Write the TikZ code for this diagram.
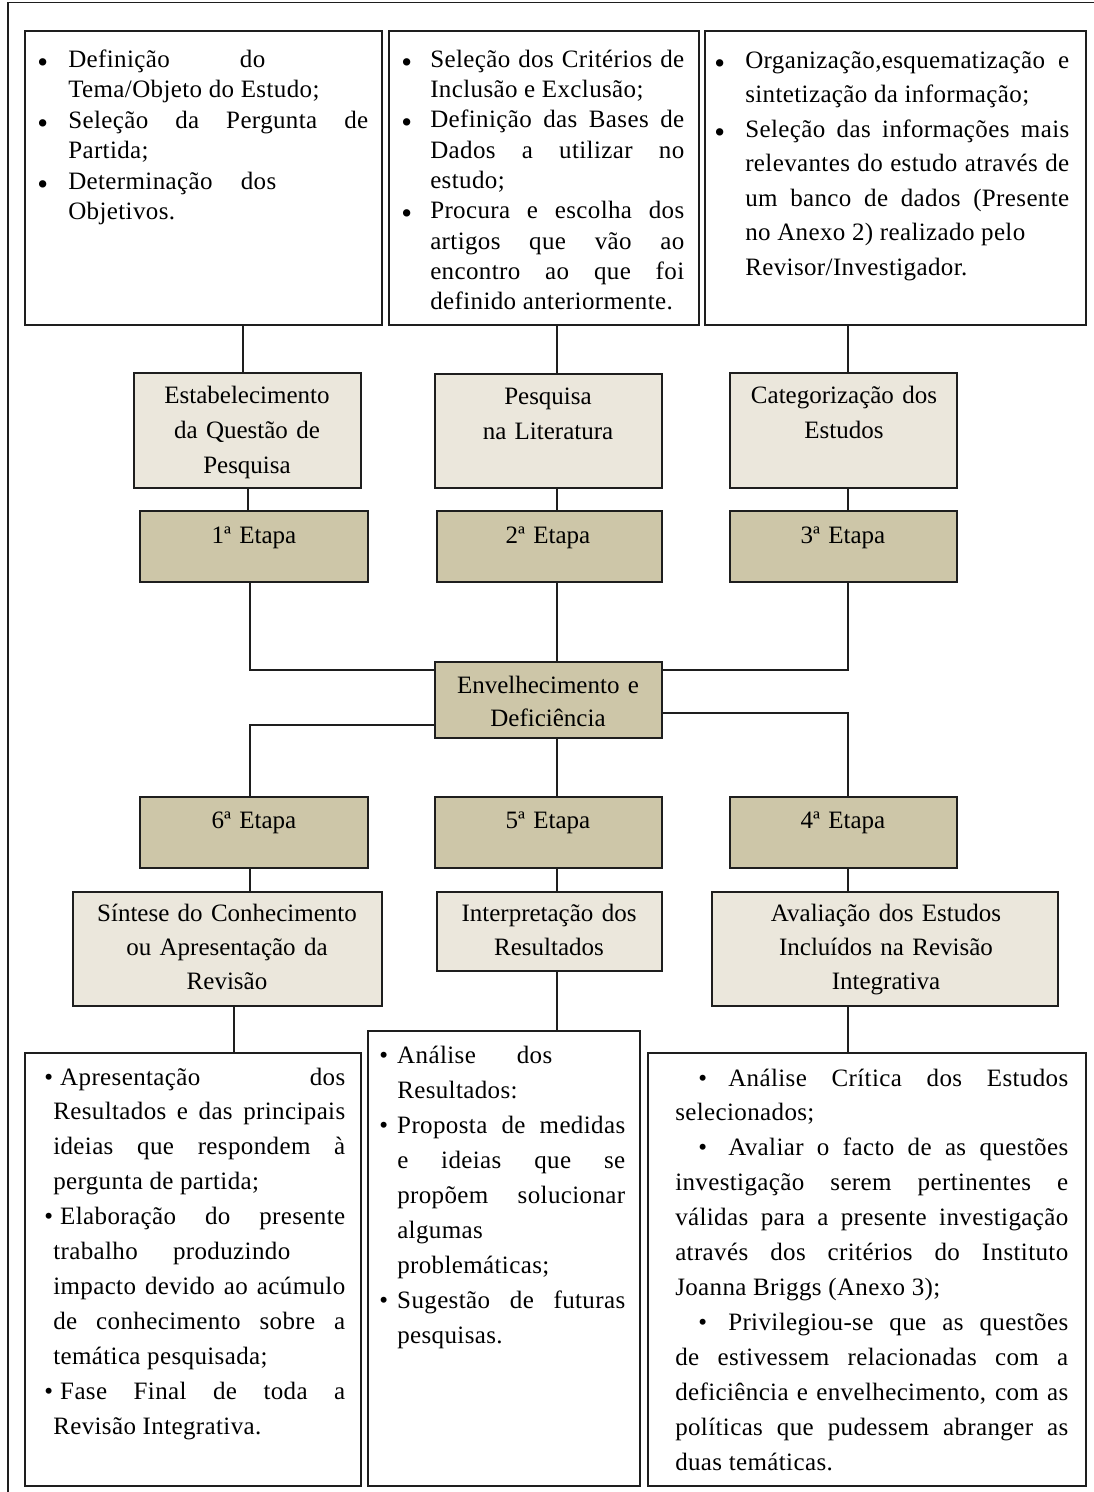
\documentclass[tikz,border=0pt]{standalone}
\usepackage{fontspec}
\setmainfont{Liberation Serif}
\newfontfamily\bodyfam{Liberation Serif}[LetterSpace=1.5]
\usetikzlibrary{fit}
\newdimen\pxu \pxu=0.75pt
% justified line of given width (px)
\newcommand\JL[2]{\hbox to #1\pxu{\spaceskip=0.25em plus 1fil\relax #2}}
% plain line
\newcommand\PL[1]{\hbox{#1}}
% larger bullet for the top boxes
\newcommand\bigbul{\raisebox{-3.8pt}{\fontsize{23pt}{23pt}\selectfont\textbullet}}
% bullet hanging left of the text start
\newcommand\BL[1]{\llap{\hbox to #1\pxu{\bigbul\hss}}}
\newcommand\SL[1]{\llap{\hbox to #1\pxu{\textbullet\hss}}}
% indent then bullet hanging left
\newcommand\BI[2]{\hskip#1\pxu\llap{\hbox to #2\pxu{\textbullet\hss}}}
% block of lines with fixed baseline skip (pt)
\newcommand\Lines[2]{\vtop{\baselineskip=#1pt\lineskip=0pt\lineskiplimit=-100pt #2}}
\newcommand\bodyfont[1]{\fontsize{18.75pt}{#1pt}\selectfont}
\definecolor{lightbox}{HTML}{EBE7DC}
\definecolor{darkbox}{HTML}{CDC6A8}
\definecolor{edge}{HTML}{1E1E1E}
\begin{document}
\begin{tikzpicture}[x=0.75pt,y=-0.75pt,
  frame/.style={draw=edge, line width=1.2pt, inner sep=0pt},
  plainbox/.style={frame, fill=white},
  topicbox/.style={frame, fill=lightbox},
  stagebox/.style={frame, fill=darkbox},
  link/.style={draw=edge, line width=1.1pt},
  body/.style={inner sep=0pt, anchor=base west, text=black, font=\bodyfam\bodyfont{25}},
  label/.style={inner sep=0pt, anchor=base, align=center, text width=225pt, text=black}
]
\useasboundingbox (0,0) rectangle (1094,1492);
\fill[white] (0,0) rectangle (1094,1492);
% outer frame
\draw[draw=edge, line width=1.3pt] (1094,2.5) -- (8,2.5) -- (8,1492);

% ---------- boxes ----------
\node[plainbox, fit={(25,31)(382,325)}] (b1) {};
\node[plainbox, fit={(389,31)(699,325)}] (b2) {};
\node[plainbox, fit={(705,31)(1086,325)}] (b3) {};

\node[topicbox, fit={(134,373)(361,488)}] (s1) {};
\node[topicbox, fit={(435,374)(662,488)}] (s2) {};
\node[topicbox, fit={(730,373)(957,488)}] (s3) {};

\node[stagebox, fit={(140,511)(368,582)}] (e1) {};
\node[stagebox, fit={(437,511)(662,582)}] (e2) {};
\node[stagebox, fit={(730,511)(957,582)}] (e3) {};

\node[stagebox, fit={(435,662)(662,738)}] (env) {};

\node[stagebox, fit={(140,797)(368,868)}] (e6) {};
\node[stagebox, fit={(435,797)(662,868)}] (e5) {};
\node[stagebox, fit={(730,797)(957,868)}] (e4) {};

\node[topicbox, fit={(73,892)(382,1006)}] (r6) {};
\node[topicbox, fit={(437,892)(662,971)}] (r5) {};
\node[topicbox, fit={(712,892)(1058,1006)}] (r4) {};

\node[plainbox, fit={(25,1053)(361,1486)}] (d6) {};
\node[plainbox, fit={(368,1031)(640,1486)}] (d5) {};
\node[plainbox, fit={(648,1053)(1086,1486)}] (d4) {};

% ---------- connectors ----------
\draw[link] (243,0 |- b1.south) -- (243,0 |- s1.north);
\draw[link] (557,0 |- b2.south) -- (557,0 |- s2.north);
\draw[link] (848,0 |- b3.south) -- (848,0 |- s3.north);
\draw[link] (248,0 |- s1.south) -- (248,0 |- e1.north);
\draw[link] (557,0 |- s2.south) -- (557,0 |- e2.north);
\draw[link] (848,0 |- s3.south) -- (848,0 |- e3.north);
\draw[link] (250,0 |- e1.south) |- (env.west |- 0,670);
\draw[link] (557,0 |- e2.south) -- (557,0 |- env.north);
\draw[link] (848,0 |- e3.south) |- (env.east |- 0,670);
\draw[link] (env.west |- 0,725) -| (250,0 |- e6.north);
\draw[link] (557,0 |- env.south) -- (557,0 |- e5.north);
\draw[link] (env.east |- 0,713) -| (848,0 |- e4.north);
\draw[link] (250,0 |- e6.south) -- (250,0 |- r6.north);
\draw[link] (557,0 |- e5.south) -- (557,0 |- r5.north);
\draw[link] (848,0 |- e4.south) -- (848,0 |- r4.north);
\draw[link] (234,0 |- r6.south) -- (234,0 |- d6.north);
\draw[link] (557,0 |- r5.south) -- (557,0 |- d5.north);
\draw[link] (848,0 |- r4.south) -- (848,0 |- d4.north);

% ---------- top texts ----------
\node[body] (t1) at (68,67) {\Lines{22.9}{%
\hbox{\BL{31}\JL{197}{Definição do}}
\PL{Tema/Objeto do Estudo;}
\hbox{\BL{31}\JL{300}{Seleção da Pergunta de}}
\PL{Partida;}
\hbox{\BL{31}\JL{208}{Determinação dos}}
\PL{Objetivos.}}};

\node[body] (t2) at (430,67) {\Lines{22.75}{%
\hbox{\BL{29}\JL{254}{Seleção dos Critérios de}}
\PL{Inclusão e Exclusão;}
\hbox{\BL{29}\JL{254}{Definição das Bases de}}
\JL{254}{Dados a utilizar no}
\PL{estudo;}
\hbox{\BL{29}\JL{254}{Procura e escolha dos}}
\JL{254}{artigos que vão ao}
\JL{254}{encontro ao que foi}
\PL{definido anteriormente.}}};

\node[body] (t3) at (745,68) {\Lines{25.9}{%
\hbox{\BL{31}\JL{324}{Organização,esquematização e}}
\PL{sintetização da informação;}
\hbox{\BL{31}\JL{324}{Seleção das informações mais}}
\JL{324}{relevantes do estudo através de}
\JL{324}{um banco de dados (Presente}
\PL{no Anexo 2) realizado pelo}
\PL{Revisor/Investigador.}}};

% ---------- labels ----------
\node[label, font=\bodyfont{26.4}] (l1) at (247,403) {Estabelecimento\\da Questão de\\Pesquisa};
\node[label, font=\bodyfont{26.4}] (l2) at (548,404) {Pesquisa\\na Literatura};
\node[label, font=\bodyfont{26.4}] (l3) at (844,403) {Categorização dos\\Estudos};

\node[label, font=\bodyfont{26}] (k1) at (254,543) {1ª Etapa};
\node[label, font=\bodyfont{26}] (k2) at (548,543) {2ª Etapa};
\node[label, font=\bodyfont{26}] (k3) at (843,543) {3ª Etapa};

\node[label, font=\bodyfont{25}] (lc) at (548,693) {Envelhecimento e\\Deficiência};

\node[label, font=\bodyfont{26}] (k6) at (254,828) {6ª Etapa};
\node[label, font=\bodyfont{26}] (k5) at (548,828) {5ª Etapa};
\node[label, font=\bodyfont{26}] (k4) at (843,828) {4ª Etapa};

\node[label, font=\bodyfont{25.8}] (l6) at (227,921) {Síntese do Conhecimento\\ou Apresentação da\\Revisão};
\node[label, font=\bodyfont{25.8}] (l5) at (549,921) {Interpretação dos\\Resultados};
\node[label, font=\bodyfont{25.8}] (l4) at (886,921) {Avaliação dos Estudos\\Incluídos na Revisão\\Integrativa};

% ---------- bottom texts ----------
\node[body] (u6) at (53,1085) {\Lines{26.2}{%
\hbox{\BI{7}{16}\JL{285}{Apresentação dos}}
\JL{292}{Resultados e das principais}
\JL{292}{ideias que respondem à}
\PL{pergunta de partida;}
\hbox{\BI{7}{16}\JL{285}{Elaboração do presente}}
\JL{237}{trabalho produzindo}
\JL{292}{impacto devido ao acúmulo}
\JL{292}{de conhecimento sobre a}
\PL{temática pesquisada;}
\hbox{\BI{7}{16}\JL{285}{Fase Final de toda a}}
\PL{Revisão Integrativa.}}};

\node[body] (u5) at (397,1063) {\Lines{26.25}{%
\hbox{\SL{18}\JL{155}{Análise dos}}
\PL{Resultados:}
\hbox{\SL{18}\JL{228}{Proposta de medidas}}
\JL{228}{e ideias que se}
\JL{228}{propõem solucionar}
\PL{algumas}
\PL{problemáticas;}
\hbox{\SL{18}\JL{228}{Sugestão de futuras}}
\PL{pesquisas.}}};

\node[body] (u4) at (675,1086) {\Lines{26.2}{%
\hbox{\BI{53}{30}\JL{340}{Análise Crítica dos Estudos}}
\PL{selecionados;}
\hbox{\BI{53}{30}\JL{340}{Avaliar o facto de as questões}}
\JL{393}{investigação serem pertinentes e}
\JL{393}{válidas para a presente investigação}
\JL{393}{através dos critérios do Instituto}
\PL{Joanna Briggs (Anexo 3);}
\hbox{\BI{53}{30}\JL{340}{Privilegiou-se que as questões}}
\JL{393}{de estivessem relacionadas com a}
\JL{393}{deficiência e envelhecimento, com as}
\JL{393}{políticas que pudessem abranger as}
\PL{duas temáticas.}}};
\end{tikzpicture}
\end{document}
